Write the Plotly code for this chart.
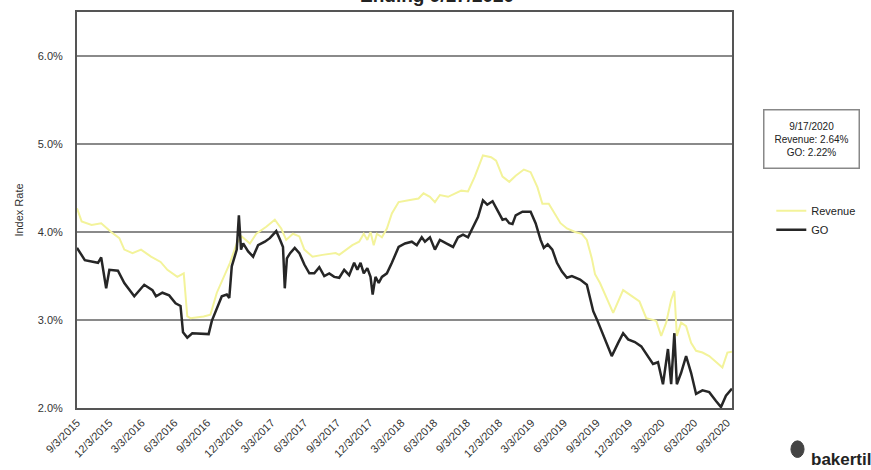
import plotly.graph_objects as go

# ---- data ----
go_dates = [
    "2015-09-03", "2015-09-25", "2015-11-01", "2015-11-10", "2015-11-24", "2015-12-03", "2015-12-27",
    "2016-01-14", "2016-02-11", "2016-03-10", "2016-04-02", "2016-04-12", "2016-04-30", "2016-05-19",
    "2016-06-06", "2016-06-20", "2016-06-27", "2016-07-09", "2016-07-23", "2016-09-03", "2016-09-07",
    "2016-09-16", "2016-09-30", "2016-10-14", "2016-10-28", "2016-11-04", "2016-11-11", "2016-11-20",
    "2016-11-25", "2016-12-01", "2016-12-07", "2016-12-13", "2016-12-27", "2017-01-10", "2017-01-24",
    "2017-02-12", "2017-02-26", "2017-03-07", "2017-03-16", "2017-03-27", "2017-04-04", "2017-04-09",
    "2017-04-15", "2017-04-24", "2017-05-07", "2017-05-20", "2017-06-03", "2017-06-17", "2017-07-01",
    "2017-07-15", "2017-07-29", "2017-08-12", "2017-08-26", "2017-09-09", "2017-09-23", "2017-10-07",
    "2017-10-21", "2017-10-30", "2017-11-08", "2017-11-17", "2017-11-27", "2017-12-06", "2017-12-12",
    "2017-12-20", "2017-12-29", "2018-01-07", "2018-01-21", "2018-02-04", "2018-02-13", "2018-02-23",
    "2018-03-13", "2018-04-01", "2018-04-15", "2018-04-29", "2018-05-08", "2018-05-22", "2018-06-05",
    "2018-06-19", "2018-07-07", "2018-07-26", "2018-08-09", "2018-08-23", "2018-09-06", "2018-09-20",
    "2018-10-04", "2018-10-18", "2018-10-30", "2018-11-14", "2018-11-28", "2018-12-12", "2018-12-21",
    "2018-12-31", "2019-01-09", "2019-01-18", "2019-02-06", "2019-03-01", "2019-03-15", "2019-03-29",
    "2019-04-07", "2019-04-18", "2019-05-01", "2019-05-14", "2019-05-28", "2019-06-11", "2019-06-25",
    "2019-07-18", "2019-08-06", "2019-08-15", "2019-08-24", "2019-09-03", "2019-09-17", "2019-10-01",
    "2019-10-15", "2019-11-02", "2019-11-16", "2019-11-30", "2019-12-19", "2020-01-06", "2020-01-25",
    "2020-02-08", "2020-02-22", "2020-03-07", "2020-03-21", "2020-03-30", "2020-04-08", "2020-04-15",
    "2020-04-27", "2020-05-11", "2020-05-25", "2020-06-08", "2020-06-26", "2020-07-15", "2020-08-03",
    "2020-08-17", "2020-08-31", "2020-09-17",
]
go_values = [
    3.82, 3.68, 3.65, 3.71, 3.36, 3.57, 3.56,
    3.42, 3.27, 3.40, 3.34, 3.27, 3.31, 3.28,
    3.19, 3.16, 2.86, 2.80, 2.85, 2.84, 2.84,
    2.99, 3.12, 3.27, 3.29, 3.25, 3.61, 3.74,
    3.80, 4.19, 3.80, 3.87, 3.78, 3.72, 3.85,
    3.89, 3.93, 3.97, 4.01, 3.91, 3.83, 3.36,
    3.70, 3.76, 3.82, 3.76, 3.63, 3.53, 3.53,
    3.60, 3.50, 3.53, 3.49, 3.48, 3.57, 3.51,
    3.65, 3.57, 3.65, 3.53, 3.59, 3.49, 3.29,
    3.49, 3.42, 3.49, 3.53, 3.65, 3.74, 3.83,
    3.87, 3.89, 3.85, 3.94, 3.89, 3.94, 3.80,
    3.91, 3.87, 3.83, 3.94, 3.97, 3.94, 4.06,
    4.17, 4.36, 4.31, 4.35, 4.25, 4.14, 4.15,
    4.10, 4.09, 4.19, 4.23, 4.23, 4.10, 3.91,
    3.82, 3.86, 3.80, 3.65, 3.55, 3.48, 3.50,
    3.46, 3.40, 3.25, 3.10, 3.01, 2.87, 2.74,
    2.59, 2.74, 2.85, 2.78, 2.75, 2.70, 2.59,
    2.50, 2.52, 2.27, 2.67, 2.27, 2.85, 2.27,
    2.40, 2.59, 2.40, 2.16, 2.20, 2.18, 2.08,
    2.01, 2.14, 2.22,
]

rev_dates = [
    "2015-09-03", "2015-09-16", "2015-10-14", "2015-11-10", "2015-12-08", "2015-12-31", "2016-01-14",
    "2016-02-06", "2016-03-01", "2016-03-29", "2016-04-25", "2016-05-14", "2016-06-11", "2016-06-29",
    "2016-07-09", "2016-07-18", "2016-08-24", "2016-09-12", "2016-09-30", "2016-10-19", "2016-11-06",
    "2016-11-25", "2016-12-09", "2017-01-01", "2017-01-19", "2017-02-16", "2017-03-12", "2017-03-30",
    "2017-04-13", "2017-05-02", "2017-05-20", "2017-06-03", "2017-06-26", "2017-07-24", "2017-08-30",
    "2017-09-09", "2017-09-28", "2017-10-16", "2017-11-04", "2017-11-17", "2017-11-27", "2017-12-06",
    "2017-12-15", "2017-12-24", "2018-01-07", "2018-01-21", "2018-02-04", "2018-02-23", "2018-03-23",
    "2018-04-20", "2018-05-04", "2018-05-22", "2018-06-05", "2018-06-19", "2018-07-12", "2018-07-31",
    "2018-08-18", "2018-09-06", "2018-09-25", "2018-10-18", "2018-11-10", "2018-11-24", "2018-12-12",
    "2018-12-31", "2019-01-18", "2019-02-10", "2019-03-01", "2019-03-20", "2019-04-03", "2019-04-21",
    "2019-05-05", "2019-05-24", "2019-06-11", "2019-07-04", "2019-07-23", "2019-08-06", "2019-08-20",
    "2019-08-29", "2019-09-12", "2019-10-19", "2019-11-16", "2019-12-09", "2020-01-01", "2020-01-20",
    "2020-02-17", "2020-03-02", "2020-03-16", "2020-03-30", "2020-04-08", "2020-04-15", "2020-04-27",
    "2020-05-11", "2020-05-25", "2020-06-08", "2020-06-26", "2020-07-15", "2020-08-03", "2020-08-21",
    "2020-09-04", "2020-09-17",
]
rev_values = [
    4.27, 4.12, 4.08, 4.10, 4.00, 3.93, 3.80,
    3.76, 3.80, 3.72, 3.66, 3.57, 3.49, 3.53,
    3.04, 3.02, 3.04, 3.06, 3.31, 3.49, 3.65,
    3.87, 3.95, 3.87, 3.98, 4.06, 4.14, 4.04,
    3.91, 3.98, 3.95, 3.80, 3.72, 3.74, 3.76,
    3.74, 3.80, 3.85, 3.89, 3.98, 3.91, 4.00,
    3.85, 3.98, 3.94, 4.04, 4.21, 4.34, 4.36,
    4.38, 4.44, 4.40, 4.34, 4.42, 4.40, 4.44,
    4.47, 4.46, 4.63, 4.87, 4.85, 4.81, 4.63,
    4.57, 4.64, 4.71, 4.68, 4.51, 4.32, 4.32,
    4.23, 4.10, 4.04, 4.00, 3.98, 3.91, 3.70,
    3.52, 3.42, 3.08, 3.34, 3.27, 3.21, 3.02,
    2.99, 2.82, 2.97, 3.23, 3.33, 2.82, 2.97,
    2.93, 2.74, 2.65, 2.63, 2.59, 2.52, 2.46,
    2.63, 2.64,
]

tick_dates = [
    "2015-09-03", "2015-12-03", "2016-03-03", "2016-06-03", "2016-09-03", "2016-12-03", "2017-03-03",
    "2017-06-03", "2017-09-03", "2017-12-03", "2018-03-03", "2018-06-03", "2018-09-03", "2018-12-03",
    "2019-03-03", "2019-06-03", "2019-09-03", "2019-12-03", "2020-03-03", "2020-06-03", "2020-09-03",
]
tick_labels = [
    "9/3/2015", "12/3/2015", "3/3/2016", "6/3/2016", "9/3/2016", "12/3/2016", "3/3/2017",
    "6/3/2017", "9/3/2017", "12/3/2017", "3/3/2018", "6/3/2018", "9/3/2018", "12/3/2018",
    "3/3/2019", "6/3/2019", "9/3/2019", "12/3/2019", "3/3/2020", "6/3/2020", "9/3/2020",
]
y_ticks = [2.0, 3.0, 4.0, 5.0, 6.0]
y_tick_labels = ["2.0%", "3.0%", "4.0%", "5.0%", "6.0%"]

title_text = "Ending 9/17/2020"
callout_text = "9/17/2020<br>Revenue: 2.64%<br>GO: 2.22%"

FONT = "Arial, 'Liberation Sans', sans-serif"

fig = go.Figure()
fig.add_trace(go.Scatter(
    x=rev_dates, y=rev_values, name="Revenue", mode="lines",
    line=dict(color="#f3f39a", width=2),
))
fig.add_trace(go.Scatter(
    x=go_dates, y=go_values, name="GO", mode="lines",
    line=dict(color="#262626", width=2.5),
))

fig.update_layout(
    width=871, height=470,
    margin=dict(l=77, r=133, t=10, b=61),
    paper_bgcolor="white", plot_bgcolor="white",
    font=dict(family=FONT, color="#333333", size=11),
    showlegend=True,
    legend=dict(
        x=1.06, y=0.535, xanchor="left", yanchor="top",
        font=dict(size=11, color="#222222"),
        bgcolor="rgba(0,0,0,0)", tracegroupgap=2, itemwidth=30,
    ),
)

fig.update_xaxes(
    type="date",
    range=["2015-09-03", "2020-09-17"],
    tickmode="array", tickvals=tick_dates, ticktext=tick_labels,
    tickangle=-45, tickfont=dict(size=11, color="#333333"),
    showgrid=False, zeroline=False,
    showline=True, linecolor="#555555", linewidth=2, mirror=True,
    ticks="", ticklabelstandoff=2,
)
fig.update_yaxes(
    range=[2.0, 6.5],
    tickmode="array", tickvals=y_ticks, ticktext=y_tick_labels,
    tickfont=dict(size=11, color="#333333"),
    showgrid=True, gridcolor="#8a8a8a", gridwidth=1.5,
    zeroline=False,
    showline=True, linecolor="#555555", linewidth=2, mirror=True,
    ticks="", ticklabelstandoff=10,
    title=dict(text="Index Rate", font=dict(size=11, color="#333333"), standoff=12),
)

# partially visible title at the top (cut by the top edge, as in the reference)
fig.add_annotation(
    text="<b>" + title_text + "</b>", xref="paper", yref="paper",
    x=0.55, y=1.0, xanchor="center", yanchor="bottom", yshift=4,
    showarrow=False, font=dict(size=19, color="#222222", family=FONT),
)

# callout box
fig.add_annotation(
    text=callout_text, xref="paper", yref="paper",
    x=1.121, y=0.68, xanchor="center", yanchor="middle",
    showarrow=False, align="center",
    font=dict(size=10, color="#222222", family=FONT),
    bordercolor="#888888", borderwidth=1.5, borderpad=10, bgcolor="white",
)

# logo bottom-right (cut by the right edge, as in the reference)
fig.add_annotation(
    text="<b>bakertilly</b>", xref="paper", yref="paper",
    x=1.118, y=-0.13, xanchor="left", yanchor="middle",
    showarrow=False, font=dict(size=17, color="#222222", family=FONT),
)
fig.add_shape(
    type="circle", xref="paper", yref="paper",
    x0=1.090, x1=1.110, y0=-0.125, y1=-0.083,
    fillcolor="#444444", line=dict(color="#444444", width=1),
)

fig.write_html("out.html")
